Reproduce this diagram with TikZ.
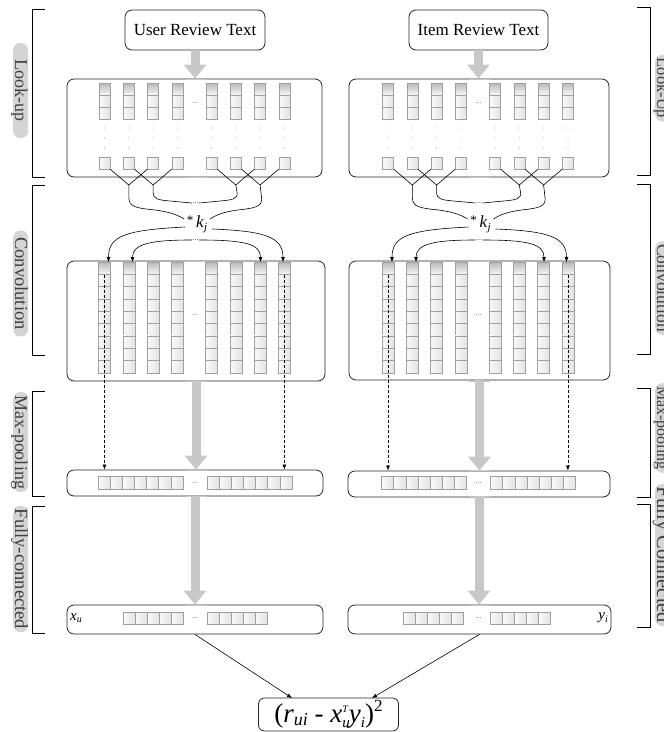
\documentclass[tikz,border=0pt]{standalone}
\usepackage{fontspec}
\setmainfont{Liberation Serif}
\usetikzlibrary{arrows.meta,calc}
\definecolor{garrow}{HTML}{C8C8C8}
\definecolor{pillc}{HTML}{D5D5D5}
\definecolor{celldraw}{HTML}{A0A0A0}
\begin{document}
\begin{tikzpicture}[x=1pt,y=-1pt,
  bigbox/.style={draw=black!85, line width=0.8pt, rounded corners=7pt, fill=white, inner sep=0pt},
  cell/.style={draw=celldraw, line width=0.45pt, left color=gray!4, right color=gray!22, inner sep=0pt, minimum width=11pt, minimum height=12pt},
  topcell/.style={cell, top color=gray!55, bottom color=gray!6},
  ccell/.style={cell, minimum width=12pt, minimum height=12.33pt},
  ctop/.style={ccell, top color=gray!55, bottom color=gray!6},
  hcell/.style={cell, minimum width=12.14pt, minimum height=13pt},
  fcell/.style={cell, minimum width=12pt, minimum height=12pt},
  ellip/.style={font=\fontsize{8}{8}\selectfont, text=black!60, inner sep=0.5pt},
  garr/.style={draw=garrow, line width=9pt, -{Triangle[width=22pt,length=14pt]}},
  conn/.style={line width=0.6pt},
  sidelbl/.style={fill=pillc, rounded corners=7pt, inner xsep=3pt, inner ysep=1.5pt, text height=11.5pt, text depth=0.5pt, text=black!75, rotate=-90, anchor=south},
  lbrack/.style={line width=0.8pt},
  arrtip/.style={-{Latex[length=5pt,width=4pt]}}
]
\useasboundingbox (0,0) rectangle (664,732);

% side brackets
\draw[lbrack] (45,9) -- (32,9) -- (32,177) -- (45,177);
\draw[lbrack] (45,185) -- (32,185) -- (32,355) -- (45,355);
\draw[lbrack] (45,391) -- (32,391) -- (32,496) -- (45,496);
\draw[lbrack] (45,506) -- (32,506) -- (32,633) -- (45,633);
\draw[lbrack] (637,7) -- (650,7) -- (650,175) -- (637,175);
\draw[lbrack] (637,184) -- (650,184) -- (650,354) -- (637,354);
\draw[lbrack] (637,388) -- (650,388) -- (650,497) -- (637,497);
\draw[lbrack] (637,504) -- (650,504) -- (650,627) -- (637,627);

% side labels
\node[sidelbl, minimum width=95pt, font=\fontsize{18}{18}\selectfont] (sl1) at (13,90.5) {Look-up};
\node[sidelbl, minimum width=106pt, font=\fontsize{18.5}{18.5}\selectfont] (sl2) at (13,283.5) {Convolution};
\node[sidelbl, minimum width=100pt, font=\fontsize{18}{18}\selectfont] (sl3) at (13,442) {Max-pooling};
\node[sidelbl, font=\fontsize{18.5}{18.5}\selectfont] (sl4) at (13,569) {Fully-connected};
\node[sidelbl, font=\fontsize{16.5}{16.5}\selectfont] (sr1) at (655,88) {Look-Up};
\node[sidelbl, font=\fontsize{17.5}{17.5}\selectfont] (sr2) at (655,288) {Convolution};
\node[sidelbl, font=\fontsize{16}{16}\selectfont] (sr3) at (655,428) {Max-pooling};
\node[sidelbl, text height=13pt, font=\fontsize{20.5}{20.5}\selectfont] (sr4) at (655,555) {Fully Connected};

% input boxes
\node[bigbox, minimum width=140pt, minimum height=40pt, font=\fontsize{17}{17}\selectfont] (userL) at (195,30) {User Review Text};
\node[bigbox, minimum width=139pt, minimum height=40pt, font=\fontsize{17}{17}\selectfont] (userR) at (478.5,30) {Item Review Text};

% layer boxes
\node[bigbox, minimum width=255pt, minimum height=98pt] (lookL) at (194.5,128) {};
\node[bigbox, minimum width=260pt, minimum height=98pt] (lookR) at (479,128) {};
\node[bigbox, minimum width=258pt, minimum height=120pt] (convL) at (196,321) {};
\node[bigbox, minimum width=261pt, minimum height=119pt] (convR) at (479.5,320.5) {};
\node[bigbox, minimum width=256pt, minimum height=26pt] (mpL) at (195,483) {};
\node[bigbox, minimum width=262pt, minimum height=26pt] (mpR) at (479,484) {};
\node[bigbox, minimum width=256pt, minimum height=29pt] (fcL) at (195,619.5) {};
\node[bigbox, minimum width=263pt, minimum height=29pt] (fcR) at (479.5,619.5) {};

% light segments on the borders
\foreach \dx in {0,283.5} \foreach \yy in {79,177,261,381,470,496,605}
  \draw[garrow, line width=0.9pt] (185.5+\dx,\yy) -- (206.5+\dx,\yy);

% big gray arrows
\draw[garr] (userL.south) -- (userL.south |- lookL.north);
\draw[garr] (userR.south) -- (userR.south |- lookR.north);
\draw[garr] (convL.south) -- (convL.south |- mpL.north);
\draw[garr] (convR.south) -- (convR.south |- mpR.north);
\draw[garr] (mpL.south) -- (mpL.south |- fcL.north);
\draw[garr] (mpR.south) -- (mpR.south |- fcR.north);

\foreach \s/\dx/\fa in {L/0/123, R/283.5/119.5}{
\begin{scope}[xshift=\dx]
  % look-up columns
  \foreach \i/\cx in {1/104.5,2/128.8,3/153.1,4/177.4,5/211.5,6/235.8,7/260.1,8/284.4}{
    \node[topcell] at (\cx,89) {};
    \node[cell] at (\cx,101) {};
    \node[cell] at (\cx,113) {};
    \foreach \yy in {128,138,148} \fill[gray!70] (\cx,\yy) circle (0.6);
    \node[cell] (l\s\i) at (\cx,163) {};
    % convolution columns
    \node[ctop] (ct\s\i) at (\cx,268.17) {};
    \foreach \k in {1,...,8} \node[ccell] at (\cx,268.17+\k*12.33) {};
  }
  \node[ellip] at (195,103) {...};
  \node[ellip] at (195,315) {...};
  % max-pooling cells
  \foreach \k in {0,...,6}{
    \node[hcell] at (104.07+\k*12.14,482.5) {};
    \node[hcell] at (213.07+\k*12.14,482.5) {};
  }
  \node[ellip] at (195,483) {...};
  % fully connected cells
  \foreach \k in {0,...,4}{
    \node[fcell] at (\fa+6+\k*12,618) {};
    \node[fcell] at (213+\k*12,618) {};
  }
  \node[ellip] at (195,618) {...};

  % filter node
  \node[inner sep=0pt, font=\fontsize{17}{17}\selectfont] (kj\s) at (197,224)
    {\raisebox{3pt}{\fontsize{13}{13}\selectfont *}\,\textit{k}\raisebox{-3pt}{\fontsize{11}{11}\selectfont\textit{j}}};
  \node[ellip, text=black!80] (dA\s) at (195.5,203) {...};
  \node[ellip, text=black!80] (dB\s) at (195.5,240) {...};

  \coordinate (j\s1) at (128.8,185);
  \coordinate (j\s2) at (153.1,185);
  \coordinate (j\s3) at (235.8,185);
  \coordinate (j\s4) at (260.1,185);
  \coordinate (i1\s) at (184,219);
  \coordinate (i4\s) at (210,219);
  \coordinate (o1\s) at (185,227);
  \coordinate (o4\s) at (212,229);
  \coordinate (t1\s) at (108.5,262);
  \coordinate (t2\s) at (132.5,262);
  \coordinate (t7\s) at (260.5,262);
  \coordinate (t8\s) at (283,262);

  \draw[conn] (l\s1.south east) -- (j\s1) -- (l\s3.south west);
  \draw[conn] (l\s2.south east) -- (j\s2) -- (l\s4.south west);
  \draw[conn] (l\s5.south east) -- (j\s3) -- (l\s7.south west);
  \draw[conn] (l\s6.south east) -- (j\s4) -- (l\s8.south west);

  \draw[conn] (j\s1) -- (128.8,197) .. controls (128.8,207) and (136,208) .. (155,210) .. controls (170,212) and (178,215) .. (i1\s);
  \draw[conn] (j\s2) -- (153.1,192) .. controls (153.1,199) and (158,200) .. (170,201) -- (dA\s.west);
  \draw[conn] (j\s3) -- (237,192) .. controls (238.5,199) and (232,200) .. (220,201) -- (dA\s.east);
  \draw[conn] (j\s4) -- (261.5,197) .. controls (263,207) and (255,208) .. (238,210) .. controls (223,212) and (216,215) .. (i4\s);

  \draw[conn,arrtip] (o1\s) .. controls (125,230) and (108.5,236) .. (t1\s);
  \draw[conn,arrtip] (dB\s.west) .. controls (150,240) and (132.5,244) .. (t2\s);
  \draw[conn,arrtip] (dB\s.east) .. controls (245,240) and (260.5,244) .. (t7\s);
  \draw[conn,arrtip] (o4\s) .. controls (265,231) and (283,237) .. (t8\s);

  \draw[conn, dash pattern=on 3pt off 2pt, arrtip] (ct\s1.south) -- (ct\s1.south |- mp\s.north);
  \draw[conn, dash pattern=on 3pt off 2pt, arrtip] (ct\s8.south) -- (ct\s8.south |- mp\s.north);
\end{scope}
}

% output vector labels
\node[anchor=west, inner sep=0pt, font=\fontsize{15}{15}\selectfont] (xu) at (70,618) {\textit{x}\raisebox{-2.5pt}{\fontsize{10}{10}\selectfont\textit{u}}};
\node[anchor=east, inner sep=0pt, font=\fontsize{15}{15}\selectfont] (yi) at (608,618) {\textit{y}\raisebox{-2.5pt}{\fontsize{10}{10}\selectfont\textit{i}}};

% loss
\node[draw=black!85, line width=0.8pt, rounded corners=6pt, minimum width=140pt, minimum height=33pt, inner sep=0pt, font=\fontsize{27}{27}\selectfont] (form) at (328.5,714.5)
  {(\textit{r}\raisebox{-3pt}{\fontsize{18}{18}\selectfont\textit{ui}} - \textit{x}\rlap{\raisebox{10pt}{\fontsize{10}{10}\selectfont\textit{T}}}\raisebox{-4.5pt}{\fontsize{15}{15}\selectfont\textit{u}}\kern-1pt\textit{y}\raisebox{-4.5pt}{\fontsize{15}{15}\selectfont\textit{i}})\raisebox{11pt}{\fontsize{17}{17}\selectfont 2}};
\coordinate (fa1) at (292,698);
\coordinate (fa2) at (372,698);
\draw[conn, arrtip] (fcL.south) -- (fa1);
\draw[conn, arrtip] (fcR.south) -- (fa2);
\end{tikzpicture}
\end{document}
